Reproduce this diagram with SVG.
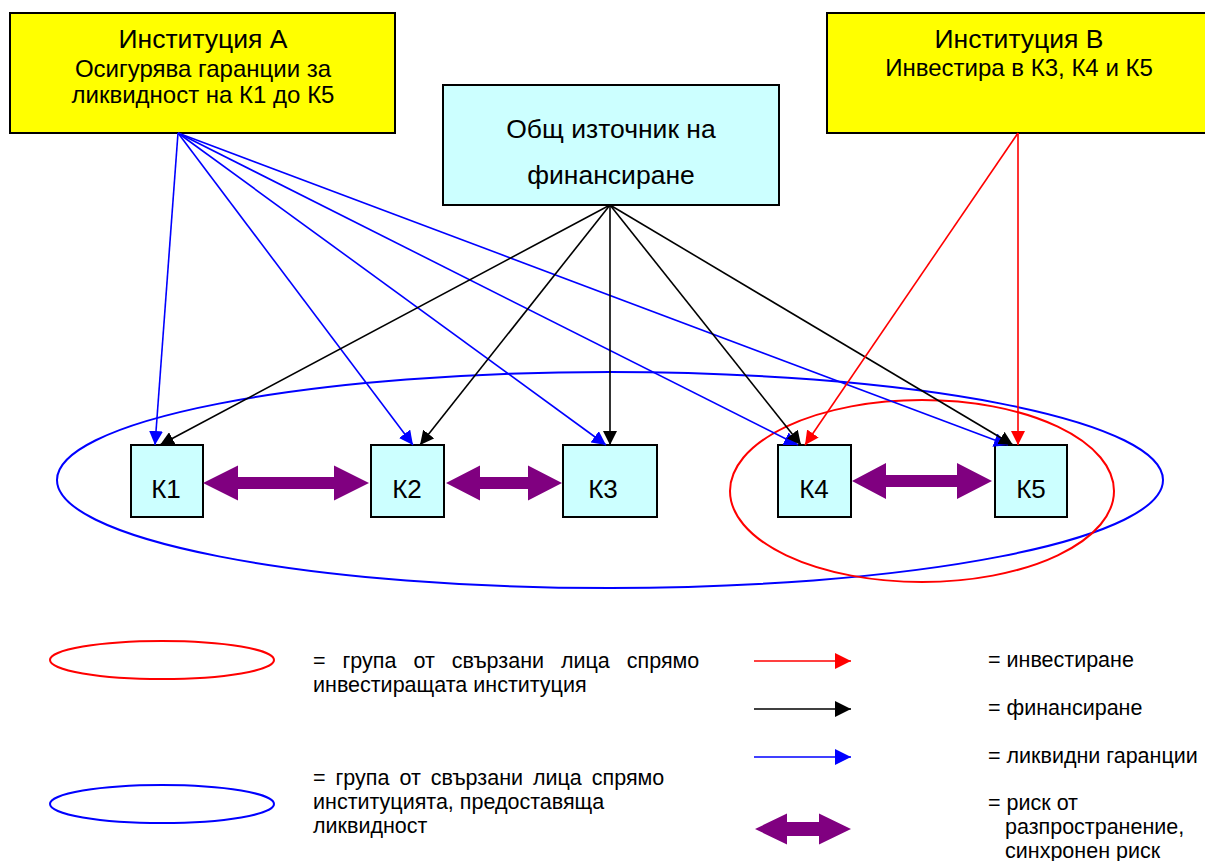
<svg xmlns="http://www.w3.org/2000/svg" width="1205" height="861" viewBox="0 0 1205 861">
<style>
text{font-family:"Liberation Sans",Arial,sans-serif;fill:#000}
.big{font-size:24px;text-anchor:middle}
.t1{font-size:26.5px;text-anchor:middle}
.s1{font-size:26.5px;text-anchor:middle}
.k{font-size:26px;text-anchor:middle}
.leg{font-size:21.5px}
.inst{fill:#FFFF00;stroke:#000;stroke-width:2}
.src{fill:#CCFFFF;stroke:#000;stroke-width:2}
.c{fill:none;stroke-width:1.6}
.b{stroke:#0000FF}
.bl{stroke:#000}
.r{stroke:#FF0000}
.risk{fill:#800080}
</style>
<defs>
<marker id="mb" markerWidth="14" markerHeight="14" refX="14" refY="7" orient="auto" markerUnits="userSpaceOnUse"><path d="M0,0 L14,7 L0,14 z" fill="#0000FF"/></marker>
<marker id="mk" markerWidth="14" markerHeight="14" refX="14" refY="7" orient="auto" markerUnits="userSpaceOnUse"><path d="M0,0 L14,7 L0,14 z" fill="#000"/></marker>
<marker id="mr" markerWidth="14" markerHeight="14" refX="14" refY="7" orient="auto" markerUnits="userSpaceOnUse"><path d="M0,0 L14,7 L0,14 z" fill="#FF0000"/></marker>
<marker id="lb" markerWidth="16" markerHeight="16" refX="16" refY="8" orient="auto" markerUnits="userSpaceOnUse"><path d="M0,0 L16,8 L0,16 z" fill="#0000FF"/></marker>
<marker id="lk" markerWidth="16" markerHeight="16" refX="16" refY="8" orient="auto" markerUnits="userSpaceOnUse"><path d="M0,0 L16,8 L0,16 z" fill="#000"/></marker>
<marker id="lr" markerWidth="16" markerHeight="16" refX="16" refY="8" orient="auto" markerUnits="userSpaceOnUse"><path d="M0,0 L16,8 L0,16 z" fill="#FF0000"/></marker>
</defs>

<g id="groups">
<ellipse cx="610" cy="480" rx="553" ry="108" fill="none" stroke="#0000FF" stroke-width="2"/>
<ellipse cx="922" cy="491" rx="192" ry="91" fill="none" stroke="#FF0000" stroke-width="2"/>
</g>

<g id="inst-a">
<rect class="inst" x="10" y="13" width="385" height="120"/>
<text class="t1" x="203" y="48">Институция А</text>
<text class="big" x="203" y="77">Осигурява гаранции за</text>
<text class="big" x="203" y="103">ликвидност на К1 до К5</text>
</g>

<g id="inst-b">
<rect class="inst" x="827" y="13" width="385" height="120"/>
<text class="t1" x="1019" y="48">Институция В</text>
<text class="big" x="1019" y="76">Инвестира в К3, К4 и К5</text>
</g>

<g id="source">
<rect class="src" x="443" y="85" width="336" height="120"/>
<text class="s1" x="611" y="138">Общ източник на</text>
<text class="s1" x="611" y="184">финансиране</text>
</g>

<g id="k1"><rect class="src" x="131" y="445" width="72" height="72"/><text class="k" x="166" y="498">К1</text></g>
<g id="k2"><rect class="src" x="371" y="445" width="73" height="72"/><text class="k" x="407" y="498">К2</text></g>
<g id="k3"><rect class="src" x="563" y="445" width="94" height="72"/><text class="k" x="603" y="498">К3</text></g>
<g id="k4"><rect class="src" x="778" y="445" width="73" height="72"/><text class="k" x="814" y="498">К4</text></g>
<g id="k5"><rect class="src" x="995" y="445" width="72" height="72"/><text class="k" x="1031" y="498">К5</text></g>

<g id="connectors">
<line class="c b" x1="178" y1="133" x2="155" y2="445" marker-end="url(#mb)"/>
<line class="c b" x1="178" y1="133" x2="413" y2="445" marker-end="url(#mb)"/>
<line class="c b" x1="178" y1="133" x2="606" y2="445" marker-end="url(#mb)"/>
<line class="c b" x1="178" y1="133" x2="798" y2="445" marker-end="url(#mb)"/>
<line class="c b" x1="178" y1="133" x2="1008" y2="445" marker-end="url(#mb)"/>
<line class="c bl" x1="610" y1="205" x2="160" y2="445" marker-end="url(#mk)"/>
<line class="c bl" x1="610" y1="205" x2="420" y2="445" marker-end="url(#mk)"/>
<line class="c bl" x1="610" y1="205" x2="610" y2="445" marker-end="url(#mk)"/>
<line class="c bl" x1="610" y1="205" x2="801" y2="445" marker-end="url(#mk)"/>
<line class="c bl" x1="610" y1="205" x2="1013" y2="445" marker-end="url(#mk)"/>
<line class="c r" x1="1018" y1="133" x2="805" y2="445" marker-end="url(#mr)"/>
<line class="c r" x1="1018" y1="133" x2="1018" y2="445" marker-end="url(#mr)"/>
<path class="risk" d="M203,483 L238,465.5 L238,477 L334,477 L334,465.5 L369,483 L334,500.5 L334,489 L238,489 L238,500.5 z"/>
<path class="risk" d="M446,483 L480,465.5 L480,477 L528,477 L528,465.5 L562,483 L528,500.5 L528,489 L480,489 L480,500.5 z"/>
<path class="risk" d="M852,481 L886,463 L886,475 L957,475 L957,463 L992,481 L957,499 L957,487 L886,487 L886,499 z"/>
</g>

<g id="legend">
<ellipse cx="162" cy="660" rx="112" ry="19" fill="none" stroke="#FF0000" stroke-width="2"/>
<ellipse cx="162" cy="804" rx="112" ry="19" fill="none" stroke="#0000FF" stroke-width="2"/>
<text class="leg" x="313" y="668" word-spacing="11">= група от свързани лица спрямо</text>
<text class="leg" x="313" y="692">инвестиращата институция</text>
<text class="leg" x="313" y="785" word-spacing="4">= група от свързани лица спрямо</text>
<text class="leg" x="313" y="809">институцията, предоставяща</text>
<text class="leg" x="313" y="833">ликвидност</text>
<line class="c r" x1="754" y1="661" x2="851" y2="661" stroke-width="2" marker-end="url(#lr)"/>
<line class="c bl" x1="754" y1="709" x2="851" y2="709" stroke-width="2" marker-end="url(#lk)"/>
<line class="c b" x1="754" y1="757" x2="851" y2="757" stroke-width="2" marker-end="url(#lb)"/>
<path class="risk" d="M755,829 L787,813.5 L787,822 L819,822 L819,813.5 L851,829 L819,844.5 L819,836 L787,836 L787,844.5 z"/>
<text class="leg" x="988" y="667">= инвестиране</text>
<text class="leg" x="988" y="715">= финансиране</text>
<text class="leg" x="988" y="763">= ликвидни гаранции</text>
<text class="leg" x="988" y="810">= риск от</text>
<text class="leg" x="1005" y="834">разпространение,</text>
<text class="leg" x="1005" y="858">синхронен риск</text>
</g>
</svg>
